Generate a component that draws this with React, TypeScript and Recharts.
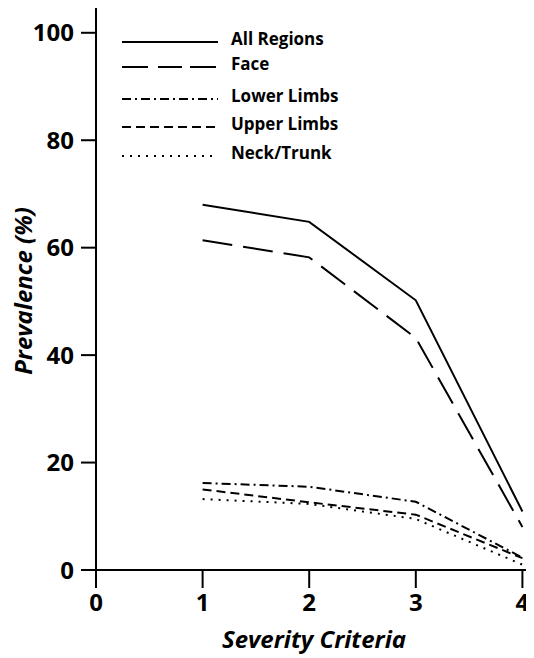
import { CartesianGrid, Label, Line, LineChart, XAxis, YAxis } from 'recharts'

const CRITERIA = [1, 2, 3, 4]
const ALL_REGIONS = [68, 64.8, 50.2, 10.9]
const FACE = [61.4, 58.2, 43.2, 8]
const LOWER_LIMBS = [16.2, 15.5, 12.7, 2.3]
const UPPER_LIMBS = [15, 12.6, 10.3, 2.2]
const NECK_TRUNK = [13.2, 12.3, 9.5, 1]

const X_TICKS = [0, 1, 2, 3, 4]
const Y_TICKS = [0, 20, 40, 60, 80, 100]

const SERIES = [
  { key: 'all', name: 'All Regions', values: ALL_REGIONS, dash: undefined as string | undefined },
  { key: 'face', name: 'Face', values: FACE, dash: '30 11' },
  { key: 'lower', name: 'Lower Limbs', values: LOWER_LIMBS, dash: '9 4 2 4' },
  { key: 'upper', name: 'Upper Limbs', values: UPPER_LIMBS, dash: '9 5' },
  { key: 'neck', name: 'Neck/Trunk', values: NECK_TRUNK, dash: '2 6' },
]

const FONT = '"Open Sans", "DejaVu Sans", sans-serif'

const rows = CRITERIA.map((c, i) => {
  const row: Record<string, number> = { x: c }
  SERIES.forEach((s) => {
    row[s.key] = s.values[i]
  })
  return row
})

// legend row positions (line y)
const LEGEND_Y = [42, 67, 99, 127, 156]

function LegendBox() {
  return (
    <svg width={534} height={180} style={{ position: 'absolute', left: 0, top: 0 }}>
      {SERIES.map((s, i) => (
        <g key={s.key}>
          <line
            x1={122}
            x2={218}
            y1={LEGEND_Y[i]}
            y2={LEGEND_Y[i]}
            stroke="#000"
            strokeWidth={2}
            strokeDasharray={s.key === 'face' ? '26 10 24 8' : s.dash}
          />
          <text
            x={231}
            y={LEGEND_Y[i] + 3}
            fontFamily={FONT}
            fontWeight={700}
            fontSize={17}
            fill="#000"
          >
            {s.name}
          </text>
        </g>
      ))}
    </svg>
  )
}

export default function App() {
  return (
    <div style={{ position: 'relative', width: 534, height: 658, margin: '-8px 0 0 -8px', background: '#fff' }}>
      <LineChart
        width={534}
        height={658}
        data={rows}
        margin={{ top: 7, right: 2, left: 0, bottom: 0 }}
        style={{ overflow: 'visible' }}
      >
        <CartesianGrid stroke="none" />
        <XAxis
          dataKey="x"
          type="number"
          domain={[0, 4.09]}
          ticks={X_TICKS}
          allowDataOverflow
          height={88}
          tickSize={18}
          tickMargin={6}
          stroke="#000"
          strokeWidth={2}
          tick={{ fontSize: 24, fontWeight: 700, fill: '#000', fontFamily: FONT }}
        >
          <Label
            value="Severity Criteria"
            position="insideBottom"
            offset={10}
            style={{ fontSize: 24, fontWeight: 700, fontStyle: 'italic', fill: '#000', fontFamily: FONT }}
          />
        </XAxis>
        <XAxis
          xAxisId="top"
          orientation="top"
          dataKey="x"
          type="number"
          domain={[0, 4.09]}
          height={0}
          tick={false}
          tickLine={false}
          stroke="#000"
          strokeWidth={2}
        />
        <YAxis
          type="number"
          domain={[0, 104.8]}
          ticks={Y_TICKS}
          allowDataOverflow
          width={96}
          tickSize={15}
          tickMargin={7}
          stroke="#000"
          strokeWidth={2}
          tick={{ fontSize: 24, fontWeight: 700, fill: '#000', fontFamily: FONT }}
        >
          <Label
            content={() => (
              <text
                x={22}
                y={291}
                transform="rotate(-90, 22, 291)"
                textAnchor="middle"
                dominantBaseline="central"
                fontFamily={FONT}
                fontSize={24}
                fontWeight={700}
                fontStyle="italic"
                fill="#000"
              >
                Prevalence (%)
              </text>
            )}
          />
        </YAxis>
        {SERIES.map((s) => (
          <Line
            key={s.key}
            dataKey={s.key}
            name={s.name}
            type="linear"
            stroke="#000"
            strokeWidth={2}
            strokeDasharray={s.dash}
            dot={false}
            activeDot={false}
            isAnimationActive={false}
          />
        ))}
      </LineChart>
      <LegendBox />
    </div>
  )
}
